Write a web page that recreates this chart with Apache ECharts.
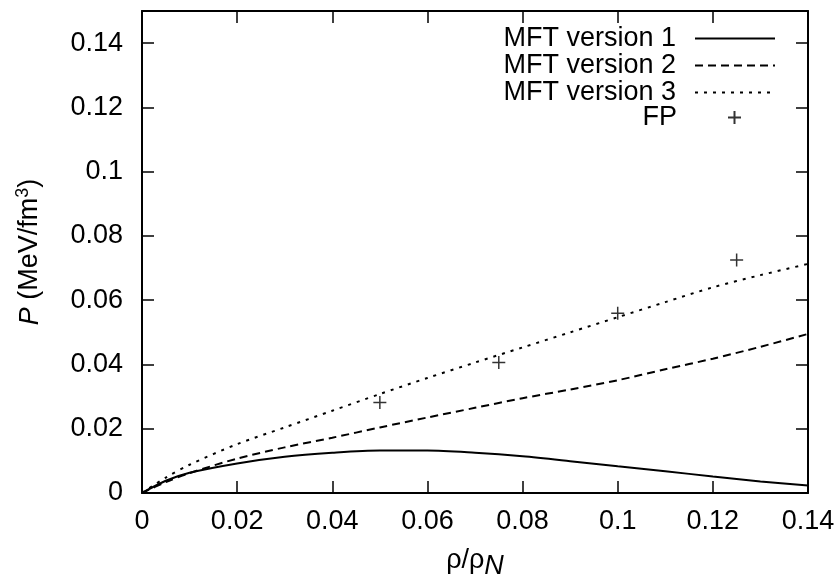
<!DOCTYPE html>
<html>
<head>
<meta charset="utf-8">
<script src="https://cdn.jsdelivr.net/npm/echarts@6/dist/echarts.min.js"></script>
<style>
  html, body { margin: 0; padding: 0; background: #fff; }
  #chart { width: 840px; height: 577px; }
</style>
</head>
<body>
<div id="chart"></div>
<script type="text/javascript">

// density grid (rho / rho_N) used by the three MFT curves
var rho  = [0, 0.005, 0.01, 0.02, 0.03, 0.04, 0.05, 0.06, 0.07, 0.08, 0.09, 0.10, 0.11, 0.12, 0.13, 0.14];
var mft1 = [0, 0.0038, 0.0063, 0.0092, 0.0113, 0.0125, 0.0132, 0.0132, 0.0125, 0.0114, 0.0099, 0.0083, 0.0068, 0.0051, 0.0036, 0.0023];
var mft2 = [0, 0.0034, 0.0062, 0.0107, 0.0142, 0.0172, 0.0204, 0.0235, 0.0265, 0.0295, 0.0322, 0.0351, 0.0385, 0.0418, 0.0455, 0.0495];
var mft3 = [0, 0.0048, 0.0088, 0.0152, 0.0204, 0.0256, 0.0308, 0.0358, 0.0406, 0.0453, 0.0500, 0.0547, 0.0594, 0.0640, 0.0678, 0.0713];

// FP points
var fpRho = [0.05, 0.075, 0.1, 0.125];
var fpP   = [0.0282, 0.0406, 0.0559, 0.0725];

var seriesNames = ['MFT version 1', 'MFT version 2', 'MFT version 3', 'FP'];

var FONT = 'Liberation Sans, Arial, Helvetica, sans-serif';
var FS = 27;

function pairs(xs, ys) {
    var out = [];
    for (var i = 0; i < xs.length; i++) out.push([xs[i], ys[i]]);
    return out;
}

var chart = echarts.init(document.getElementById('chart'), null, {renderer: 'canvas'});

var axisLine = {show: true, onZero: false, lineStyle: {color: '#000', width: 2}};
var axisTick = {show: true, inside: true, length: 12, lineStyle: {color: '#000', width: 1.5}};

function lineLegend(name, top) {
    return {
        data: [name],
        orient: 'vertical',
        align: 'right',
        right: 64,
        top: top,
        padding: 0,
        itemWidth: 80,
        itemHeight: 14,
        itemStyle: {opacity: 0},
        textStyle: {color: '#000', fontSize: FS, fontFamily: FONT, padding: [0, 14, 0, 0]},
        selectedMode: false
    };
}

var option = {
    backgroundColor: '#fff',
    animation: false,
    grid: {left: 142, right: 32, top: 11, bottom: 84, containLabel: false, outerBoundsMode: 'none'},
    legend: [
        lineLegend(seriesNames[0], 25),
        lineLegend(seriesNames[1], 52),
        lineLegend(seriesNames[2], 79),
        {
            data: [seriesNames[3]],
            orient: 'vertical',
            align: 'right',
            right: 98,
            top: 104,
            padding: 0,
            itemWidth: 13,
            itemHeight: 13,
            textStyle: {color: '#000', fontSize: FS, fontFamily: FONT, padding: [0, 46, 0, 0]},
            selectedMode: false
        }
    ],
    xAxis: [
        {
            type: 'value',
            min: 0,
            max: 0.14,
            interval: 0.02,
            axisLine: axisLine,
            axisTick: axisTick,
            splitLine: {show: false},
            axisLabel: {color: '#000', fontSize: FS, fontFamily: FONT, margin: 15},
            name: 'ρ/ρ{sub|N}',
            nameLocation: 'middle',
            nameGap: 48,
            nameTextStyle: {
                color: '#000', fontSize: FS, fontFamily: FONT,
                rich: {sub: {fontSize: FS, fontStyle: 'italic', fontFamily: FONT, color: '#000', verticalAlign: 'bottom', padding: [12, 0, 0, 0]}}
            }
        },
        {
            type: 'value',
            position: 'top',
            min: 0,
            max: 0.14,
            interval: 0.02,
            axisLine: axisLine,
            axisTick: axisTick,
            splitLine: {show: false},
            axisLabel: {show: false}
        }
    ],
    yAxis: [
        {
            type: 'value',
            min: 0,
            max: 0.15,
            interval: 0.02,
            axisLine: axisLine,
            axisTick: axisTick,
            splitLine: {show: false},
            axisLabel: {color: '#000', fontSize: FS, fontFamily: FONT, margin: 19, showMaxLabel: false},
            name: '{it|P} (MeV/fm{sup|3})',
            nameLocation: 'middle',
            nameRotate: 90,
            nameGap: 96,
            nameTextStyle: {
                color: '#000', fontSize: FS, fontFamily: FONT,
                rich: {
                    it: {fontSize: FS, fontStyle: 'italic', fontFamily: FONT, color: '#000'},
                    sup: {fontSize: 18, fontFamily: FONT, color: '#000', verticalAlign: 'top', padding: [0, 0, 14, 0]}
                }
            }
        },
        {
            type: 'value',
            position: 'right',
            min: 0,
            max: 0.15,
            interval: 0.02,
            axisLine: axisLine,
            axisTick: axisTick,
            splitLine: {show: false},
            axisLabel: {show: false}
        }
    ],
    series: [
        {
            name: seriesNames[0],
            type: 'line',
            smooth: 0.3,
            symbol: 'none',
            lineStyle: {color: '#000', width: 2, type: 'solid'},
            itemStyle: {color: '#000'},
            data: pairs(rho, mft1)
        },
        {
            name: seriesNames[1],
            type: 'line',
            smooth: 0.3,
            symbol: 'none',
            lineStyle: {color: '#000', width: 2, type: [8, 5]},
            itemStyle: {color: '#000'},
            data: pairs(rho, mft2)
        },
        {
            name: seriesNames[2],
            type: 'line',
            smooth: 0.3,
            symbol: 'none',
            lineStyle: {color: '#000', width: 2, type: [3, 6]},
            itemStyle: {color: '#000'},
            data: pairs(rho, mft3)
        },
        {
            name: seriesNames[3],
            type: 'scatter',
            symbol: 'path://M0,5L10,5M5,0L5,10',
            symbolSize: 13,
            symbolKeepAspect: true,
            itemStyle: {color: 'rgba(0,0,0,0)', borderColor: '#000', borderWidth: 1.5},
            data: pairs(fpRho, fpP)
        }
    ]
};

chart.setOption(option);

</script>
</body>
</html>
